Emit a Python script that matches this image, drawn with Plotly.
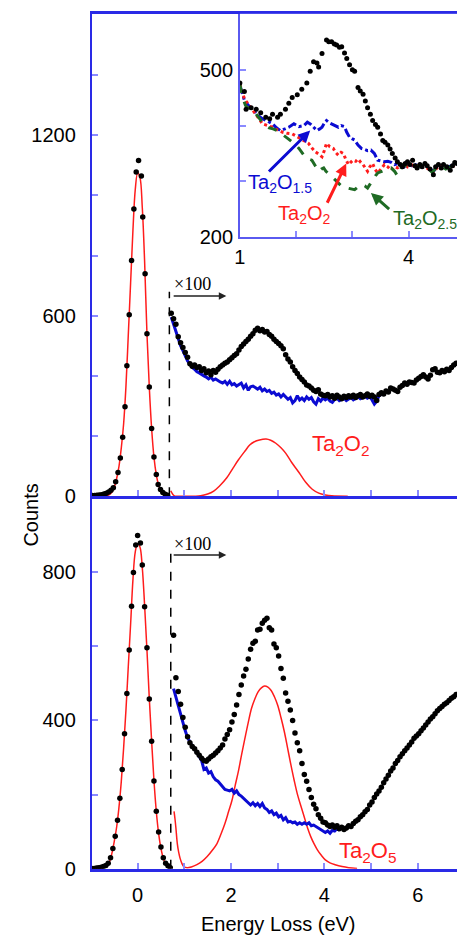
import plotly.graph_objects as go

# ---------------- top panel (Ta2O2) ----------------
# zero-loss peak, raw counts
top_zlp_x = [-0.97, -0.92, -0.87, -0.82, -0.77, -0.72, -0.67, -0.62, -0.57, -0.52, -0.47, -0.42,
             -0.37, -0.32, -0.27, -0.23, -0.18, -0.13, -0.08, -0.03, 0.02, 0.08, 0.11, 0.16,
             0.20, 0.25, 0.30, 0.35, 0.40, 0.44, 0.49, 0.54, 0.59, 0.64]
top_zlp_y = [2, 2, 3, 4, 5, 7, 10, 14, 20, 28, 48, 79, 127, 196, 297, 434, 603, 784, 955, 1078,
             1116, 1065, 928, 740, 540, 363, 225, 130, 72, 39, 22, 12, 6, 3]
top_zlp_fit_x = [-0.98, -0.8, -0.7, -0.65, -0.6, -0.55, -0.5, -0.45, -0.4, -0.35, -0.3, -0.25, -0.2,
                 -0.15, -0.1, -0.05, 0.0, 0.05, 0.1, 0.15, 0.2, 0.25, 0.3, 0.35, 0.4, 0.45, 0.5,
                 0.55, 0.6, 0.65, 0.7]
top_zlp_fit_y = [0, 0, 0, 2, 6, 14, 30, 58, 98, 160, 240, 365, 535, 710, 885, 1020, 1075, 1060, 960,
                 780, 540, 363, 225, 130, 72, 36, 17, 7, 3, 1, 0]

# loss region, x100
top_loss_x = [0.72, 0.77, 0.82, 0.87, 0.92, 0.97, 1.02, 1.07, 1.12, 1.17,
              1.22, 1.27, 1.32, 1.37, 1.42, 1.47, 1.52, 1.57, 1.62, 1.67,
              1.72, 1.77, 1.82, 1.87, 1.92, 1.97, 2.02, 2.07, 2.12, 2.17,
              2.22, 2.27, 2.32, 2.37, 2.42, 2.47, 2.52, 2.57, 2.62, 2.67,
              2.72, 2.77, 2.82, 2.87, 2.92, 2.97, 3.02, 3.07, 3.12, 3.17,
              3.22, 3.27, 3.32, 3.37, 3.42, 3.47, 3.52, 3.57, 3.62, 3.67,
              3.72, 3.77, 3.82, 3.87, 3.92, 3.97, 4.02, 4.07, 4.12, 4.17,
              4.22, 4.27, 4.32, 4.37, 4.42, 4.47, 4.52, 4.57, 4.62, 4.67,
              4.72, 4.77, 4.82, 4.87, 4.92, 4.97, 5.02, 5.07, 5.12, 5.17,
              5.22, 5.27, 5.32, 5.37, 5.42, 5.47, 5.52, 5.57, 5.62, 5.67,
              5.72, 5.77, 5.82, 5.87, 5.92, 5.97, 6.02, 6.07, 6.12, 6.17,
              6.22, 6.27, 6.32, 6.37, 6.42, 6.47, 6.52, 6.57, 6.62, 6.67,
              6.72, 6.77, 6.82]
top_loss_y = [608, 590, 572, 530, 510, 494, 478, 462, 440, 432,
              436, 428, 430, 418, 424, 410, 416, 404, 418, 412,
              422, 430, 436, 442, 446, 454, 460, 468, 474, 486,
              498, 506, 514, 522, 532, 540, 552, 558, 550, 554,
              546, 548, 538, 532, 522, 514, 508, 500, 490, 470,
              456, 446, 430, 418, 408, 396, 388, 380, 370, 366,
              360, 352, 348, 354, 340, 336, 334, 338, 330, 334,
              326, 336, 330, 324, 332, 328, 334, 330, 336, 328,
              334, 338, 330, 334, 340, 332, 336, 330, 318, 338,
              344, 340, 350, 346, 360, 356, 352, 348, 362, 368,
              376, 372, 380, 378, 376, 386, 392, 398, 404, 396,
              390, 402, 420, 424, 412, 410, 418, 414, 422, 418,
              428, 436, 442]
top_bg_y = [596, 570, 548, 522, 500, 484, 466, 450, 440, 428,
            422, 414, 410, 404, 400, 396, 390, 396, 386, 390,
            384, 380, 376, 382, 372, 382, 370, 374, 366, 370,
            376, 360, 370, 352, 364, 366, 360, 356, 362, 350,
            356, 348, 352, 342, 346, 336, 340, 330, 338, 328,
            322, 328, 310, 318, 334, 320, 326, 318, 330, 322,
            328, 314, 306, 324, 316, 326, 320, 326, 316, 312,
            322, 326, 318, 322, 326, 318, 322, 328, 320, 326,
            330, 324, 328, 332, 326, 330, 320, 306, 316, 334,
            338]
top_peak_fit_x = [0.71, 0.74, 0.77, 0.8, 0.9, 1.2, 1.35, 1.5, 1.63, 1.75, 1.91, 2.05, 2.16, 2.3, 2.4,
                  2.5, 2.61, 2.75, 2.85, 2.96, 3.07, 3.17, 3.3, 3.46, 3.6, 3.74, 3.88, 4.02, 4.16, 4.5]
top_peak_fit_y = [18, 9, 3, 0, 0, 0, 1, 7, 17, 33, 61, 95, 121, 150, 170, 181, 187, 190, 186, 176,
                  161, 143, 112, 78, 46, 23, 10, 4, 1, 0]

# ---------------- bottom panel (Ta2O5) ----------------
bot_zlp_x = [-0.98, -0.93, -0.88, -0.83, -0.78, -0.73, -0.68, -0.63, -0.58, -0.53, -0.48, -0.43,
             -0.38, -0.33, -0.28, -0.23, -0.18, -0.13, -0.09, -0.04, 0.0, 0.06, 0.10, 0.15, 0.20,
             0.25, 0.30, 0.35, 0.40, 0.45, 0.50, 0.55, 0.60, 0.65, 0.70]
bot_zlp_y = [1, 1, 2, 3, 4, 6, 9, 15, 30, 55, 88, 131, 190, 268, 364, 473, 590, 708, 799, 873,
             899, 879, 819, 707, 596, 458, 344, 237, 155, 99, 59, 30, 15, 8, 3]
bot_zlp_fit_x = [-0.98, -0.8, -0.7, -0.65, -0.6, -0.55, -0.5, -0.45, -0.4, -0.35, -0.3, -0.25, -0.2,
                 -0.15, -0.1, -0.05, 0.0, 0.05, 0.1, 0.15, 0.2, 0.25, 0.3, 0.35, 0.4, 0.45, 0.5,
                 0.55, 0.6, 0.65, 0.7]
bot_zlp_fit_y = [0, 1, 5, 10, 20, 42, 74, 112, 165, 235, 325, 428, 545, 660, 780, 855, 877, 868, 812,
                 710, 590, 460, 345, 238, 155, 95, 55, 28, 13, 5, 1]

bot_loss_x = [0.77, 0.82, 0.87, 0.92, 0.97, 1.02, 1.07, 1.12, 1.17, 1.22,
              1.27, 1.32, 1.37, 1.42, 1.47, 1.52, 1.57, 1.62, 1.67, 1.72,
              1.77, 1.82, 1.87, 1.92, 1.97, 2.02, 2.07, 2.12, 2.17, 2.22,
              2.27, 2.32, 2.37, 2.42, 2.47, 2.52, 2.57, 2.62, 2.67, 2.72,
              2.77, 2.82, 2.87, 2.92, 2.97, 3.02, 3.07, 3.12, 3.17, 3.22,
              3.27, 3.32, 3.37, 3.42, 3.47, 3.52, 3.57, 3.62, 3.67, 3.72,
              3.77, 3.82, 3.87, 3.92, 3.97, 4.02, 4.07, 4.12, 4.17, 4.22,
              4.27, 4.32, 4.37, 4.42, 4.47, 4.52, 4.57, 4.62, 4.67, 4.72,
              4.77, 4.82, 4.87, 4.92, 4.97, 5.02, 5.07, 5.12, 5.17, 5.22,
              5.27, 5.32, 5.37, 5.42, 5.47, 5.52, 5.57, 5.62, 5.67, 5.72,
              5.77, 5.82, 5.87, 5.92, 5.97, 6.02, 6.07, 6.12, 6.17, 6.22,
              6.27, 6.32, 6.37, 6.42, 6.47, 6.52, 6.57, 6.62, 6.67, 6.72,
              6.77, 6.82]
bot_loss_y = [630, 515, 478, 444, 408, 382, 356, 340, 330, 324,
              314, 306, 298, 292, 290, 296, 302, 306, 312, 318,
              326, 334, 350, 362, 375, 396, 416, 442, 470, 496,
              520, 538, 566, 592, 608, 614, 644, 646, 662, 670,
              676, 650, 644, 606, 596, 574, 540, 514, 474, 452,
              428, 400, 366, 340, 318, 284, 254, 236, 214, 192,
              174, 162, 146, 136, 126, 124, 118, 114, 118, 112,
              116, 108, 112, 106, 110, 116, 114, 122, 128, 132,
              140, 146, 154, 160, 172, 180, 192, 202, 210, 220,
              232, 242, 252, 264, 272, 284, 292, 302, 310, 318,
              326, 334, 342, 352, 358, 364, 372, 380, 388, 396,
              404, 410, 418, 426, 432, 438, 444, 448, 454, 460,
              464, 470]
bot_bg_y = [486, 462, 440, 416, 396, 372, 354, 340, 330, 324,
            312, 300, 292, 268, 272, 258, 262, 248, 240, 236,
            228, 222, 214, 212, 210, 214, 204, 210, 200, 196,
            190, 186, 180, 172, 178, 170, 176, 168, 176, 164,
            160, 152, 156, 146, 150, 140, 144, 132, 138, 126,
            128, 124, 126, 120, 124, 120, 124, 120, 124, 116,
            118, 114, 110, 108, 104, 98, 102, 96, 104, 102,
            108, 104]
bot_peak_fit_x = [0.78, 0.80, 0.82, 0.85, 0.88, 0.91, 0.95, 0.99, 1.06, 1.15, 1.27, 1.38, 1.49, 1.6,
                  1.70, 1.79, 1.87, 1.95, 2.02, 2.09, 2.16, 2.23, 2.30, 2.37, 2.44, 2.51, 2.58, 2.65,
                  2.72, 2.79, 2.86, 2.93, 3.0, 3.07, 3.14, 3.21, 3.28, 3.35, 3.42, 3.5, 3.57, 3.64,
                  3.71, 3.78, 3.85, 3.93, 4.02, 4.12, 4.23, 4.38, 4.52, 4.7]
bot_peak_fit_y = [155, 135, 110, 68, 44, 28, 14, 6, 3, 5, 11, 20, 33, 50, 68, 95, 122, 155, 184, 225,
                  264, 310, 353, 395, 433, 458, 477, 488, 493, 490, 481, 464, 441, 408, 371, 327,
                  282, 240, 202, 168, 139, 110, 86, 67, 51, 37, 24, 16, 11, 6, 3, 1]

# where the x100 scaling starts, and how high the marker line goes
scale_edge = [0.68, 0.71]
scale_top = [680, 856]

# ---------------- inset: comparison of loss spectra ----------------
ins_meas_x = [1.00, 1.08, 1.11, 1.20, 1.29, 1.37, 1.46, 1.53, 1.58, 1.67, 1.72, 1.81, 1.87, 1.93,
              2.02, 2.10, 2.19, 2.25, 2.31, 2.37, 2.40, 2.46, 2.54, 2.58, 2.63, 2.68, 2.72, 2.77,
              2.81, 2.86, 2.90, 2.95, 3.00, 3.04, 3.10, 3.14, 3.19, 3.23, 3.27, 3.32, 3.36, 3.41,
              3.45, 3.50, 3.54, 3.58, 3.63, 3.67, 3.71, 3.76, 3.80, 3.85, 3.89, 3.94, 3.98, 4.02,
              4.07, 4.11, 4.15, 4.20, 4.24, 4.29, 4.33, 4.38, 4.44, 4.48, 4.53, 4.58, 4.62, 4.68,
              4.74, 4.78, 4.82, 4.86]
ins_meas_y = [476, 461, 429, 432, 429, 423, 415, 412, 420, 415, 420, 429, 440, 450,
              455, 465, 476, 497, 514, 512, 505, 529, 553, 550, 550, 546, 544, 540,
              541, 530, 520, 509, 500, 497, 468, 462, 456, 444, 432, 420, 409, 402,
              397, 385, 373, 370, 365, 358, 350, 342, 335, 330, 326, 332, 335, 330,
              338, 328, 324, 330, 326, 332, 328, 322, 312, 326, 330, 324, 330, 326,
              320, 328, 334, 332]
ins_o15_x = [1.0, 1.08, 1.15, 1.23, 1.32, 1.40, 1.49, 1.58, 1.65, 1.72, 1.80, 1.87, 1.96, 2.05,
             2.14, 2.20, 2.25, 2.31, 2.37, 2.42, 2.46, 2.50, 2.54, 2.59, 2.63, 2.69, 2.75, 2.80,
             2.86, 2.90, 2.95, 3.00, 3.04, 3.10, 3.16, 3.22, 3.27, 3.33, 3.39, 3.45, 3.51, 3.57,
             3.63, 3.69, 3.75, 3.81, 3.86, 3.92, 3.98, 4.05, 4.12, 4.2, 4.28, 4.36, 4.44, 4.52,
             4.6, 4.68, 4.76, 4.86]
ins_o15_y = [472, 445, 436, 429, 418, 412, 408, 403, 396, 391, 394, 397, 403, 398,
             400, 406, 403, 396, 391, 394, 397, 404, 409, 405, 403, 399, 397, 400,
             398, 388, 379, 376, 374, 365, 359, 357, 355, 356, 350, 338, 336, 335,
             336, 334, 330, 332, 330, 326, 332, 328, 330, 326, 330, 324, 318, 328,
             326, 324, 328, 332]
ins_o2_x = [1.0, 1.08, 1.15, 1.23, 1.32, 1.40, 1.49, 1.58, 1.67, 1.76, 1.84, 1.93, 2.02, 2.11,
            2.17, 2.22, 2.28, 2.34, 2.40, 2.46, 2.50, 2.54, 2.60, 2.66, 2.70, 2.75, 2.80, 2.84,
            2.88, 2.93, 2.97, 3.01, 3.06, 3.10, 3.15, 3.19, 3.23, 3.27, 3.31, 3.36, 3.40, 3.45,
            3.51, 3.57, 3.63, 3.69, 3.74, 3.80, 3.86, 3.92, 3.98, 4.05, 4.12, 4.2, 4.28, 4.36,
            4.44, 4.52, 4.6, 4.68, 4.76, 4.86]
ins_o2_y = [474, 448, 438, 428, 415, 403, 400, 397, 392, 388, 386, 385, 380, 374,
            370, 368, 360, 353, 349, 344, 355, 368, 362, 359, 352, 347, 352, 350,
            340, 330, 334, 338, 336, 340, 334, 330, 324, 318, 326, 332, 322, 315,
            322, 330, 326, 320, 326, 324, 328, 332, 326, 330, 326, 330, 326, 322,
            316, 326, 328, 324, 326, 330]
ins_o25_x = [1.0, 1.05, 1.10, 1.18, 1.26, 1.33, 1.40, 1.46, 1.52, 1.59, 1.66, 1.73, 1.81, 1.87,
             1.93, 1.99, 2.05, 2.10, 2.16, 2.22, 2.28, 2.34, 2.40, 2.45, 2.49, 2.53, 2.57, 2.63,
             2.69, 2.75, 2.81, 2.87, 2.93, 2.99, 3.04, 3.10, 3.16, 3.22, 3.27, 3.32, 3.36, 3.41,
             3.45, 3.51, 3.57, 3.63, 3.69, 3.75, 3.80, 3.85, 3.89, 3.95, 4.02, 4.1, 4.18, 4.26,
             4.34, 4.42, 4.5, 4.58, 4.66, 4.74, 4.86]
ins_o25_y = [474, 450, 436, 428, 424, 414, 406, 400, 396, 394, 391, 386, 380, 376,
             371, 366, 359, 352, 344, 340, 338, 328, 318, 322, 324, 318, 315, 309,
             303, 297, 291, 289, 288, 286, 285, 290, 294, 292, 288, 296, 303, 310,
             315, 318, 320, 322, 324, 318, 310, 320, 330, 328, 326, 330, 326, 330,
             324, 316, 326, 328, 322, 326, 330]

AX = '#2a2ae6'
TICK = '#8a8aff'
BLUE = '#0b0bd2'
RED = '#ff1c1c'
GREEN = '#1f6b24'
FONT = 'Liberation Sans, Arial, Helvetica, sans-serif'

fig = go.Figure()


def line(x, y, xa, ya, color, width, dash='solid', shape='linear'):
    fig.add_trace(go.Scatter(x=x, y=y, xaxis=xa, yaxis=ya, mode='lines',
                             line=dict(color=color, width=width, dash=dash, shape=shape),
                             hoverinfo='skip'))


def dots(x, y, xa, ya, size=5.5):
    fig.add_trace(go.Scatter(x=x, y=y, xaxis=xa, yaxis=ya, mode='markers',
                             marker=dict(color='black', size=size), hoverinfo='skip'))


# top panel
line(top_zlp_fit_x, top_zlp_fit_y, 'x', 'y', RED, 1.5, shape='spline')
line(top_peak_fit_x, top_peak_fit_y, 'x', 'y', RED, 1.5, shape='spline')
line(top_loss_x[:len(top_bg_y)], top_bg_y, 'x', 'y', BLUE, 3)
dots(top_zlp_x, top_zlp_y, 'x', 'y')
dots(top_loss_x, top_loss_y, 'x', 'y')
line([scale_edge[0]] * 2, [0, scale_top[0]], 'x', 'y', 'black', 1.5, dash='dash')

# bottom panel
line(bot_zlp_fit_x, bot_zlp_fit_y, 'x2', 'y2', RED, 1.5, shape='spline')
line(bot_peak_fit_x, bot_peak_fit_y, 'x2', 'y2', RED, 1.5, shape='spline')
line(bot_loss_x[:len(bot_bg_y)], bot_bg_y, 'x2', 'y2', BLUE, 3)
dots(bot_zlp_x, bot_zlp_y, 'x2', 'y2')
dots(bot_loss_x, bot_loss_y, 'x2', 'y2')
line([scale_edge[1]] * 2, [0, scale_top[1]], 'x2', 'y2', 'black', 1.5, dash='dash')

# inset
line(ins_o15_x, ins_o15_y, 'x3', 'y3', BLUE, 3, dash='dashdot')
line(ins_o2_x, ins_o2_y, 'x3', 'y3', RED, 3, dash='dot')
line(ins_o25_x, ins_o25_y, 'x3', 'y3', GREEN, 3, dash='dash')
dots(ins_meas_x, ins_meas_y, 'x3', 'y3', size=5)


def axis(**kw):
    a = dict(showline=True, linecolor=AX, linewidth=2, ticks='inside', ticklen=6,
             tickwidth=1.5, tickcolor=TICK, showgrid=False, zeroline=False,
             tickfont=dict(size=20, family=FONT, color='black'), ticklabelstandoff=6)
    a.update(kw)
    return a


W, H = 457, 945
left = 87 / W
fig.update_layout(
    width=W, height=H,
    margin=dict(l=0, r=0, t=0, b=0),
    paper_bgcolor='white', plot_bgcolor='white', showlegend=False,
    font=dict(family=FONT, size=20, color='black'),
    xaxis=axis(domain=[left, 1], anchor='y', range=[-0.98, 6.84], mirror=True, linewidth=2.5,
               tickvals=[0, 1, 2, 3, 4, 5, 6], showticklabels=False),
    yaxis=axis(domain=[1 - 502 / H, 1 - 14 / H], anchor='x', range=[0, 1604],
               tickvals=[0, 200, 400, 600, 800, 1000, 1200, 1400],
               ticktext=['0', '', '', '600', '', '', '1200', ''], ticklabelstandoff=10),
    xaxis2=axis(domain=[left, 1], anchor='y2', range=[-0.98, 6.84], linewidth=2.5,
                tickvals=[0, 1, 2, 3, 4, 5, 6], ticktext=['0', '', '2', '', '4', '', '6']),
    yaxis2=axis(domain=[1 - 879 / H, 1 - 502 / H], anchor='x2', range=[0, 1005],
                tickvals=[0, 200, 400, 600, 800], ticktext=['0', '', '400', '', '800'],
                ticklabelstandoff=10),
    xaxis3=axis(domain=[237 / W, 1], anchor='y3', range=[1, 4.86], linewidth=1.5,
                linecolor='#5a5af0', tickvals=[1, 2, 3, 4], ticktext=['1', '', '', '4'],
                ticklabelstandoff=1),
    yaxis3=axis(domain=[1 - 240 / H, 1 - 14 / H], anchor='x3', range=[200, 600], linewidth=1.5,
                linecolor='#5a5af0', tickvals=[200, 300, 400, 500], ticktext=['200', '', '', '500'],
                ticklabelstandoff=1),
)

ann = []
# x100 markers
for xa, ya, ty, ay in [('x', 'y', 704, 666), ('x2', 'y2', 875, 846)]:
    ann.append(dict(x=1.18, y=ty, xref=xa, yref=ya, text='×100', showarrow=False,
                    font=dict(family='Liberation Serif, Times New Roman, serif', size=18)))
    ann.append(dict(x=1.9, y=ay, ax=0.74, ay=ay, xref=xa, yref=ya, axref=xa, ayref=ya,
                    text='', showarrow=True, arrowhead=2, arrowsize=1, arrowwidth=1.5,
                    arrowcolor='#222222'))
# fitted peak labels
ann.append(dict(x=3.69, y=171, xref='x', yref='y', xanchor='left', yanchor='middle',
                showarrow=False, text='Ta<sub>2</sub>O<sub>2</sub>', font=dict(color=RED, size=22)))
ann.append(dict(x=4.26, y=46, xref='x2', yref='y2', xanchor='left', yanchor='middle',
                showarrow=False, text='Ta<sub>2</sub>O<sub>5</sub>', font=dict(color=RED, size=22)))
# inset labels and arrows
for txt, col, tx, ty, hx, hy, sx, sy in [
        ('Ta<sub>2</sub>O<sub>1.5</sub>', BLUE, 1.11, 296, 2.25, 391, 1.49, 315),
        ('Ta<sub>2</sub>O<sub>2</sub>', RED, 1.64, 240, 2.89, 332, 2.54, 259),
        ('Ta<sub>2</sub>O<sub>2.5</sub>', GREEN, 3.68, 231, 3.33, 279, 3.68, 248)]:
    ann.append(dict(x=tx, y=ty, xref='x3', yref='y3', xanchor='left', yanchor='middle',
                    showarrow=False, text=txt, font=dict(color=col, size=20)))
    ann.append(dict(x=hx, y=hy, ax=sx, ay=sy, xref='x3', yref='y3', axref='x3', ayref='y3',
                    text='', showarrow=True, arrowhead=2, arrowsize=0.8, arrowwidth=3,
                    arrowcolor=col))
# axis titles
ann.append(dict(x=276 / W, y=1 - 935 / H, xref='paper', yref='paper', showarrow=False,
                xanchor='center', yanchor='middle', text='Energy Loss (eV)', font=dict(size=20)))
ann.append(dict(x=25 / W, y=1 - 521 / H, xref='paper', yref='paper', showarrow=False,
                xanchor='center', yanchor='middle', text='Counts', textangle=-90,
                font=dict(size=20)))
fig.update_layout(annotations=ann)

fig.write_html("out.html", config={'displayModeBar': False},
               post_script="document.body.style.margin='0';document.body.style.overflow='hidden';")
